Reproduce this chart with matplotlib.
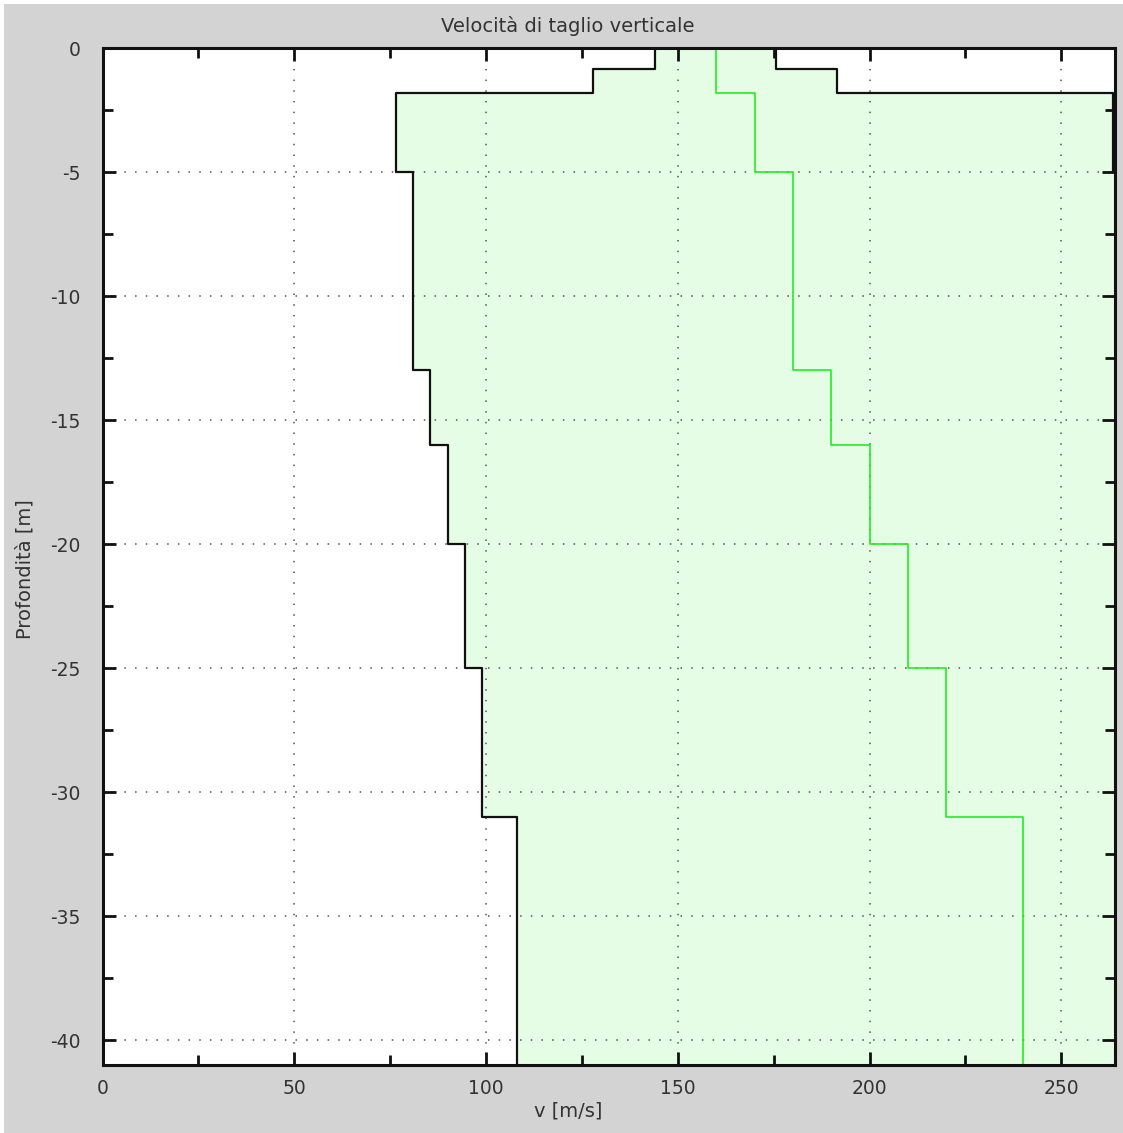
import numpy as np
import matplotlib
matplotlib.use("Agg")
import matplotlib.pyplot as plt
from matplotlib.patches import Rectangle

# layer boundaries (depth in m) and shear-wave velocities per layer (m/s)
depth_edges = [0, 0.85, 1.83, 5, 13, 16, 20, 25, 31, 41]
vs_mean = [160, 160, 170, 180, 190, 200, 210, 220, 240]
vs_min = [144, 128, 76.5, 81, 85.5, 90, 94.5, 99, 108]
vs_max = [175.5, 191.5, 263.5, 279, 294.5, 310, 325.5, 341, 372]

TXT = '#333333'
plt.rcParams['font.family'] = ['DejaVu Sans']
plt.rcParams['text.color'] = TXT
plt.rcParams['axes.unicode_minus'] = False

def steps(edges, vals):
    y = -np.repeat(edges, 2)[1:-1]
    x = np.repeat(vals, 2)
    return x, y

fig = plt.figure(figsize=(11.23, 11.33), dpi=100, facecolor='white')
# gray frame around the plot
fig.patches.append(Rectangle((4 / 1123, 0), 1, 1 - 4 / 1133, transform=fig.transFigure,
                             facecolor='#d3d3d3', edgecolor='none', zorder=-10))
ax = fig.add_axes([102.6 / 1123, 1 - 1065 / 1133, (1115 - 102.6) / 1123, (1065 - 48) / 1133])
ax.set_facecolor('white')

xm, y = steps(depth_edges, vs_mean)
xl, _ = steps(depth_edges, vs_min)
xh, _ = steps(depth_edges, vs_max)

ax.fill_betweenx(y, xl, xh, color='#e5fde5', lw=0, zorder=1)
ax.plot(xl, y, color='#111111', lw=1.6, zorder=4)
ax.plot(xh, y, color='#111111', lw=1.6, zorder=4)
ax.plot(xm, y, color='#22ee22', lw=1.2, zorder=5)

ax.set_xlim(0, 264)
ax.set_ylim(-41, 0)
ax.set_xticks(np.arange(0, 251, 50))
ax.set_xticks(np.arange(25, 264, 50), minor=True)
ax.set_yticks(np.arange(-40, 1, 5))
ax.set_yticks(np.arange(-37.5, 0, 5), minor=True)

ax.grid(True, which='major', color='#555555', linestyle=(0, (1, 6)), lw=1.1, zorder=3)
ax.set_axisbelow(False)

ax.tick_params(which='both', direction='in', top=True, right=True, width=2.0, colors='#111111',
               labelcolor=TXT, labelsize=13.5)
ax.tick_params(which='major', length=9.5)
ax.tick_params(which='minor', length=7.5)
ax.tick_params(axis='x', pad=10)
ax.tick_params(axis='y', pad=16)
for s in ax.spines.values():
    s.set_linewidth(2.2)
    s.set_color('#111111')
    s.set_zorder(6)

fig.text(568 / 1123, 1 - 26 / 1133, 'Velocità di taglio verticale', ha='center', va='center', fontsize=14)
fig.text(568 / 1123, 1 - 1111 / 1133, 'v [m/s]', ha='center', va='center', fontsize=14)
fig.text(25 / 1123, 1 - 569 / 1133, 'Profondità [m]', ha='center', va='center', fontsize=14,
         rotation=90)

fig.savefig('out.png', dpi=100, facecolor=fig.get_facecolor())
